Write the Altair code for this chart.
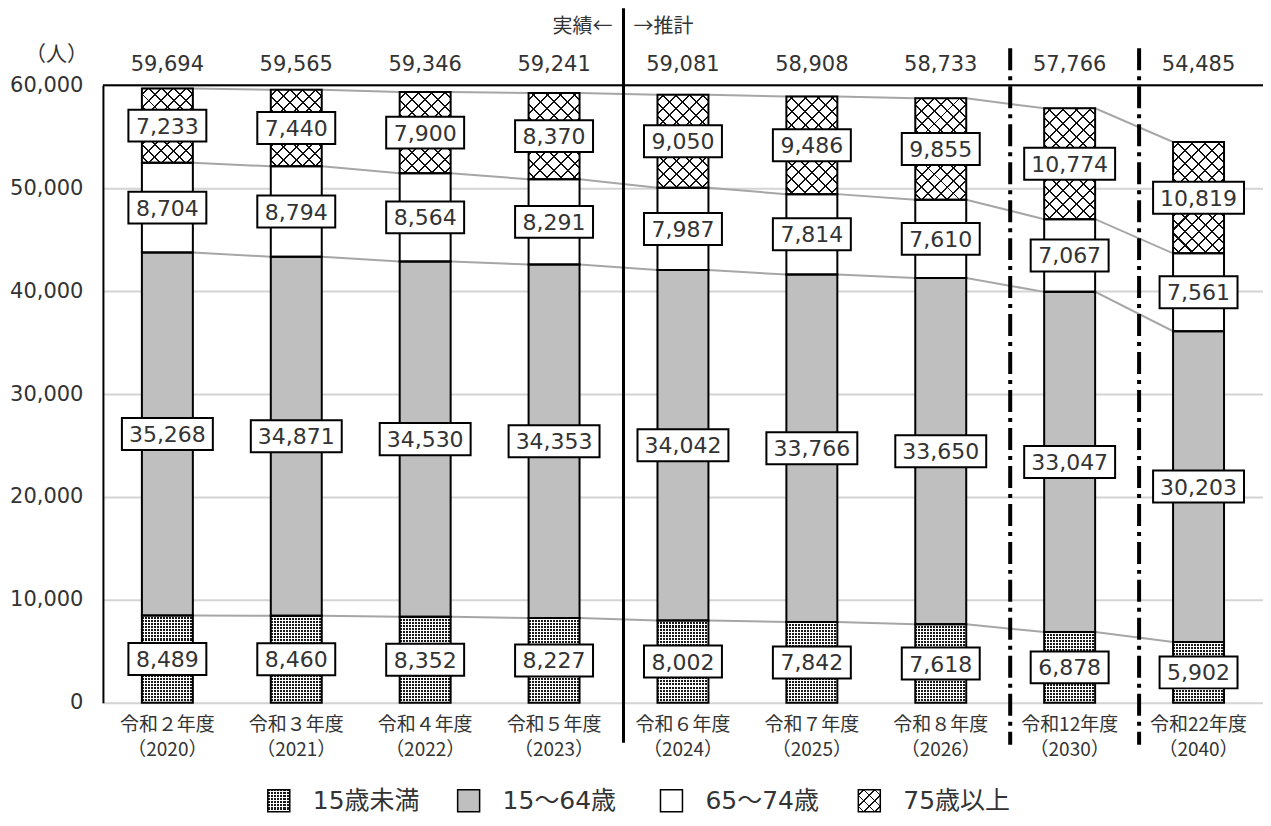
import math
import pandas as pd
import altair as alt

# ---------------- data ----------------
cat_line1 = ["令和２年度", "令和３年度", "令和４年度", "令和５年度", "令和６年度",
             "令和７年度", "令和８年度", "令和12年度", "令和22年度"]
cat_line2 = ["（2020）", "（2021）", "（2022）", "（2023）", "（2024）",
             "（2025）", "（2026）", "（2030）", "（2040）"]
series_names = ["15歳未満", "15～64歳", "65～74歳", "75歳以上"]
under15 = [8489, 8460, 8352, 8227, 8002, 7842, 7618, 6878, 5902]
age15_64 = [35268, 34871, 34530, 34353, 34042, 33766, 33650, 33047, 30203]
age65_74 = [8704, 8794, 8564, 8291, 7987, 7814, 7610, 7067, 7561]
age75plus = [7233, 7440, 7900, 8370, 9050, 9486, 9855, 10774, 10819]
totals = [59694, 59565, 59346, 59241, 59081, 58908, 58733, 57766, 54485]
solid_boundaries = [3.5]          # 実績 / 推計 boundary
dashdot_boundaries = [6.5, 7.5]

# ---------------- layout ----------------
FONT = "Noto Sans CJK JP"
NUMFONT = "DejaVu Sans, Noto Sans CJK JP"
TXT = "#333333"
N = len(cat_line1)
BAND = 129
W, H = BAND * N, 618
YMAX = 60000
BAR_W = 51
HW = (BAR_W / 2) / BAND
PX = H / YMAX

X_SCALE = alt.Scale(domain=[-0.5, N - 0.5], nice=False, zero=False)
Y_SCALE = alt.Scale(domain=[0, YMAX], nice=False, zero=True)

all_series = [under15, age15_64, age65_74, age75plus]
rows, line_rows = [], []
for i in range(N):
    base = 0
    for k, s in enumerate(series_names):
        v = all_series[k][i]
        rows.append(dict(idx=i, series=s, value=v, y0=base, y1=base + v,
                         mid=base + v / 2, x0=i - HW, x1=i + HW,
                         digits=len(str(v))))
        base += v
        line_rows.append(dict(series=s, xp=i - HW, top=base, ord=2 * i))
        line_rows.append(dict(series=s, xp=i + HW, top=base, ord=2 * i + 1))
df = pd.DataFrame(rows)
line_df = pd.DataFrame(line_rows)
cat_df = pd.DataFrame(dict(idx=list(range(N)), l1=cat_line1, l2=cat_line2, total=totals))

CLEAR = "rgba(255,255,255,0)"


def stripes(n, color, frac, x1, y1, x2, y2, p0=None):
    if p0 is None:
        p0 = 0.5 - frac / 2
    stops = [{"offset": 0, "color": CLEAR}]
    for k in range(n):
        s = round(min(1, max(0, (k + p0) / n)), 5)
        e = round(min(1, max(0, (k + p0 + frac) / n)), 5)
        stops += [{"offset": s, "color": CLEAR}, {"offset": s, "color": color},
                  {"offset": e, "color": color}, {"offset": e, "color": CLEAR}]
    stops.append({"offset": 1, "color": CLEAR})
    return {"gradient": "linear", "x1": x1, "y1": y1, "x2": x2, "y2": y2, "stops": stops}


def cross_grads(w, h, spacing=9.3, frac=0.15, color="#111111"):
    r = h / w
    a = (w + h) / (w * (1 + r * r))
    n = max(2, round((w + h) / math.sqrt(2) / spacing))
    return [stripes(n, color, frac, 0, 0, a, a * r),
            stripes(n, color, frac, 0, 1, a, 1 - a * r)]


def dot_grads(w, h, period=3.0):
    nv = max(2, round(w / period))
    nh = max(2, round(h / period))
    return [stripes(nv, "#1a1a1a", 2 / 3, 0, 0, 1, 0, p0=0),
            stripes(nh, "#ffffff", 1 / 3, 0, 0, 0, 1)]


y_axis = alt.Axis(values=list(range(0, YMAX + 1, 10000)), format=",d", title=None,
                  labelFontSize=21, labelColor=TXT, labelFont=NUMFONT, ticks=False,
                  domainColor="black", domainWidth=2, gridColor="#d4d4d4", gridWidth=2,
                  labelPadding=20)


def xq(field):
    return alt.X(field, type="quantitative", scale=X_SCALE, axis=None)


def yq(field):
    return alt.Y(field, type="quantitative", scale=Y_SCALE, axis=y_axis)


base = alt.Chart(df)

# base fills (with the y axis / grid)
fills = base.mark_bar(strokeWidth=0).encode(
    x=xq("x0"), x2="x1", y=yq("y0"), y2="y1",
    fill=alt.Fill("series:N", scale=alt.Scale(domain=series_names,
                  range=["#ffffff", "#bfbfbf", "#ffffff", "#ffffff"]), legend=None))

# top black line at 60,000
top_rule = alt.Chart(pd.DataFrame({"y": [YMAX]})).mark_rule(color="black", strokeWidth=2).encode(
    y=yq("y"), x=alt.value(0), x2=alt.value(W))

# connecting lines (behind bars)
conn = alt.Chart(line_df).mark_line(color="#a6a6a6", strokeWidth=2).encode(
    x=xq("xp"), y=yq("top"), detail="series:N", order="ord:Q")

# pattern overlays
patterns = []
for i in range(N):
    h75 = age75plus[i] * PX
    for g in cross_grads(BAR_W, h75):
        patterns.append(base.transform_filter(
            (alt.datum.idx == i) & (alt.datum.series == series_names[3])
        ).mark_bar(fill=g, strokeWidth=0).encode(x=xq("x0"), x2="x1", y=yq("y0"), y2="y1"))
    h15 = under15[i] * PX
    for g in dot_grads(BAR_W, h15):
        patterns.append(base.transform_filter(
            (alt.datum.idx == i) & (alt.datum.series == series_names[0])
        ).mark_bar(fill=g, strokeWidth=0).encode(x=xq("x0"), x2="x1", y=yq("y0"), y2="y1"))

outline = base.mark_bar(fillOpacity=0, stroke="black", strokeWidth=2).encode(
    x=xq("x0"), x2="x1", y=yq("y0"), y2="y1")

# separators
SEP_OFF = 5
solid = alt.Chart(pd.DataFrame({"b": solid_boundaries})).mark_rule(
    color="black", strokeWidth=3, xOffset=SEP_OFF).encode(
    x=xq("b"), y=alt.value(-77), y2=alt.value(H + 40))
dashdot = alt.Chart(pd.DataFrame({"b": dashdot_boundaries})).mark_rule(
    color="black", strokeWidth=4, strokeDash=[22, 6, 4, 6], xOffset=SEP_OFF).encode(
    x=xq("b"), y=alt.value(-37), y2=alt.value(H + 42))

# label boxes
box4 = "M-1,-0.41L1,-0.41L1,0.41L-1,0.41Z"
box5 = "M-1,-0.352L1,-0.352L1,0.352L-1,0.352Z"
boxes4 = base.transform_filter(alt.datum.digits <= 4).mark_point(
    shape=box4, size=78 * 78, filled=True, fill="white", stroke="black",
    strokeWidth=2, opacity=1).encode(x=xq("idx"), y=yq("mid"))
boxes5 = base.transform_filter(alt.datum.digits >= 5).mark_point(
    shape=box5, size=91 * 91, filled=True, fill="white", stroke="black",
    strokeWidth=2, opacity=1).encode(x=xq("idx"), y=yq("mid"))
labels = base.mark_text(font=NUMFONT, fontSize=22, color=TXT, baseline="middle", dy=1).encode(
    x=xq("idx"), y=yq("mid"), text=alt.Text("value:Q", format=","))

cats = alt.Chart(cat_df)
tot_text = cats.mark_text(font=NUMFONT, fontSize=21, color=TXT, baseline="middle").encode(
    x=xq("idx"), y=alt.value(-20), text=alt.Text("total:Q", format=","))
xl1 = cats.mark_text(font=FONT, fontSize=19, color=TXT, baseline="middle").encode(
    x=xq("idx"), y=alt.value(H + 22), text="l1:N")
xl2 = cats.mark_text(font=FONT, fontSize=19, color=TXT, baseline="middle").encode(
    x=xq("idx"), y=alt.value(H + 47), text="l2:N")

hdr = alt.Chart(pd.DataFrame({"b": solid_boundaries, "a": ["実績←"], "f": ["→推計"]}))
hdr_left = hdr.mark_text(font=FONT, fontSize=20, color=TXT, align="right", baseline="middle",
                         dx=SEP_OFF - 11).encode(x=xq("b"), y=alt.value(-58), text="a:N")
hdr_right = hdr.mark_text(font=FONT, fontSize=20, color=TXT, align="left", baseline="middle",
                          dx=SEP_OFF + 10).encode(x=xq("b"), y=alt.value(-58), text="f:N")
unit = alt.Chart(pd.DataFrame({"u": ["（人）"]})).mark_text(
    font=FONT, fontSize=21, color=TXT, align="right", baseline="middle").encode(
    x=alt.value(-15), y=alt.value(-30), text="u:N")

# custom legend
leg_layers = []
leg_sq_x = [176, 366, 569, 767]
LEG_Y = H + 98
LEG_S = 22
leg_fills = ["#ffffff", "#bfbfbf", "#ffffff", "#ffffff"]
for k, name in enumerate(series_names):
    one = alt.Chart(pd.DataFrame({"t": [name]}))
    leg_layers.append(one.mark_point(shape="square", size=LEG_S * LEG_S, filled=True,
                                     fill=leg_fills[k], strokeWidth=0, opacity=1).encode(
        x=alt.value(leg_sq_x[k]), y=alt.value(LEG_Y)))
    grads = []
    if k == 0:
        grads = dot_grads(LEG_S, LEG_S)
    elif k == 3:
        grads = cross_grads(LEG_S, LEG_S, spacing=7.5)
    for g in grads:
        leg_layers.append(one.mark_point(shape="square", size=LEG_S * LEG_S, filled=True,
                                         fill=g, strokeWidth=0, opacity=1).encode(
            x=alt.value(leg_sq_x[k]), y=alt.value(LEG_Y)))
    leg_layers.append(one.mark_point(shape="square", size=LEG_S * LEG_S, filled=False,
                                     stroke="black", strokeWidth=1.5, opacity=1).encode(
        x=alt.value(leg_sq_x[k]), y=alt.value(LEG_Y)))
    leg_layers.append(one.mark_text(font=NUMFONT, fontSize=25, color=TXT, align="left",
                                    baseline="middle").encode(
        x=alt.value(leg_sq_x[k] + 34), y=alt.value(LEG_Y), text="t:N"))

chart = alt.layer(
    fills, top_rule, conn, fills, *patterns, outline, solid, dashdot,
    boxes4, boxes5, labels, tot_text, xl1, xl2, hdr_left, hdr_right, unit, *leg_layers
).properties(
    width=W, height=H,
    padding={"left": 95, "top": 77, "right": 0, "bottom": 115},
    autosize=alt.AutoSizeParams(type="none"),
).configure_view(stroke=None).configure(background="white")

chart.save("out.html", embed_options={"renderer": "svg", "actions": False})
